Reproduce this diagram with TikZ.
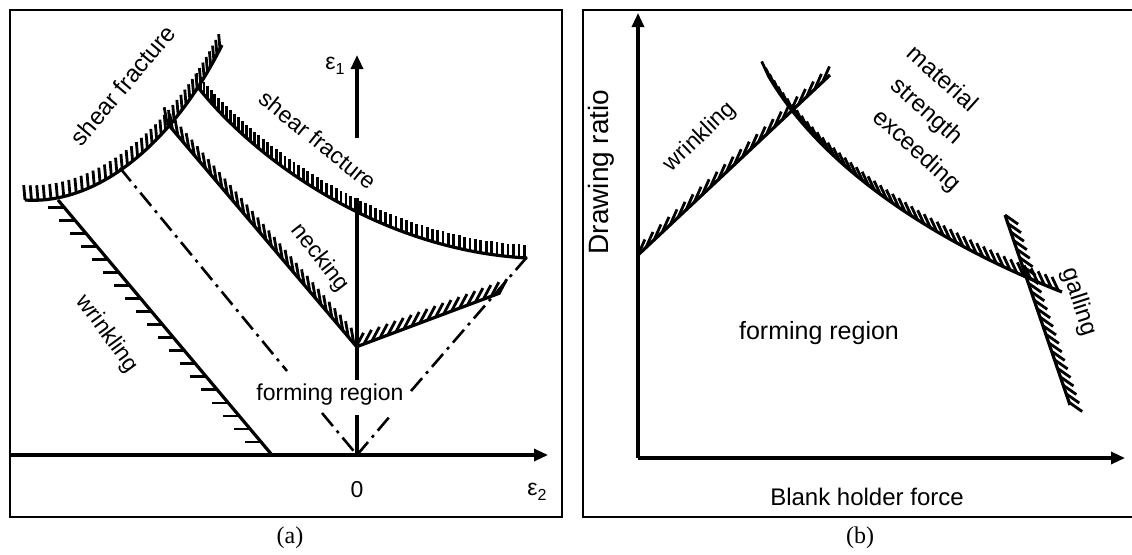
\documentclass[tikz,border=0pt]{standalone}
\usepackage{fontspec}
\setmainfont{Liberation Sans}
\newfontfamily\seriffont{Liberation Serif}
\usetikzlibrary{decorations.markings,arrows.meta}
\begin{document}
\begin{tikzpicture}[x=1pt,y=-1pt,
  every node/.style={font=\fontsize{23}{27}\selectfont, inner sep=1pt},
  frame/.style={line width=2.2pt},
  axis/.style={line width=3.2pt, -{Triangle[length=14pt,width=12pt]}},
  bline/.style={line width=3.2pt},
  dd/.style={line width=2.6pt, dash pattern=on 17pt off 6pt on 3pt off 6pt},
  hatch/.style n args={3}{postaction={decorate,
     decoration={markings, mark=between positions 0 and 1 step #1 with
       {\pgftransformresetnontranslations \draw[line width=2.8pt] (0pt,0pt) -- (#3:#2);}}}},
  mtxt/.style={rotate=-42, font=\fontsize{24}{28}\selectfont},
]
\useasboundingbox (0,0) rectangle (1132,554);
% frames
\draw[frame] (10,10) rectangle (562,517);
\draw[frame] (1140,10) -- (583,10) -- (583,517) -- (1140,517);

% ---- panel (a)
\draw[axis] (10,455) -- (548,455);
\draw[axis] (357,138) -- (357,55);
\draw[bline] (357,198) -- (357,380);
\draw[bline] (357,415) -- (357,455);
\node (e1) at (335,66) {ε\raisebox{-0.4ex}{\fontsize{16}{16}\selectfont 1}};
\node (zero) at (357,490) {0};
\node (e2) at (537,492) {ε\raisebox{-0.4ex}{\fontsize{16}{16}\selectfont 2}};
\node (fr1) at (330,395) {forming region};

% dash-dot lines
\draw[dd] (120,168) -- (287,371);
\draw[dd] (322,413) -- (357,455);
\draw[dd] (357,455) -- (391,415);
\draw[dd] (411,391) -- (527,257);

% hatched limit curves
\draw[bline, hatch={6.5pt}{15pt}{95}] (25,200) .. controls (100,205) and (175,140) .. (222,45);
\draw[bline, hatch={5.5pt}{13pt}{90}] (197,86) .. controls (255,160) and (380,250) .. (527,258);
\draw[bline, hatch={8.5pt}{16pt}{100}] (167,123) -- (356,346);
\draw[bline, hatch={8.5pt}{16pt}{62}] (356,347) -- (500,293);
\draw[bline, hatch={17pt}{16pt}{180}] (272,455) -- (58,200);

\node[rotate=50, font=\fontsize{24}{28}\selectfont] (sf1) at (123,85) {shear fracture};
\node[rotate=-39] (sf2) at (318,140) {shear fracture};
\node[rotate=-52] (neck) at (320,258) {necking};
\node[rotate=-54] (wr1) at (107,334) {wrinkling};

\node[font=\seriffont\fontsize{24}{28}\selectfont] (capa) at (290,538) {(a)};

% ---- panel (b)
\draw[axis] (638,458) -- (638,13);
\draw[axis] (638,458) -- (1125,458);
\node[rotate=90, font=\fontsize{28}{32}\selectfont] (dr) at (601,172) {Drawing ratio};
\node[font=\fontsize{24}{28}\selectfont] (bhf) at (867,497) {Blank holder force};
\node[font=\fontsize{25}{29}\selectfont] (fr2) at (819,333) {forming region};

\draw[bline, hatch={11pt}{17pt}{66}] (638,255) -- (830,75);
\draw[bline, hatch={7.5pt}{15pt}{115}] (768,75) .. controls (820,165) and (930,240) .. (1062,292);
\draw[bline, hatch={9pt}{16pt}{-35}] (1005,215) -- (1070,405);

\node[rotate=44] (wr2) at (700,137) {wrinkling};
\node[rotate=-72, font=\fontsize{24}{28}\selectfont] (gal) at (1079,302) {galling};
\node[mtxt] (mse1) at (943,78) {material};
\node[mtxt] (mse2) at (926,112) {strength};
\node[mtxt] (mse3) at (916,151) {exceeding};

\node[font=\seriffont\fontsize{24}{28}\selectfont] (capb) at (860,538) {(b)};
\end{tikzpicture}
\end{document}
